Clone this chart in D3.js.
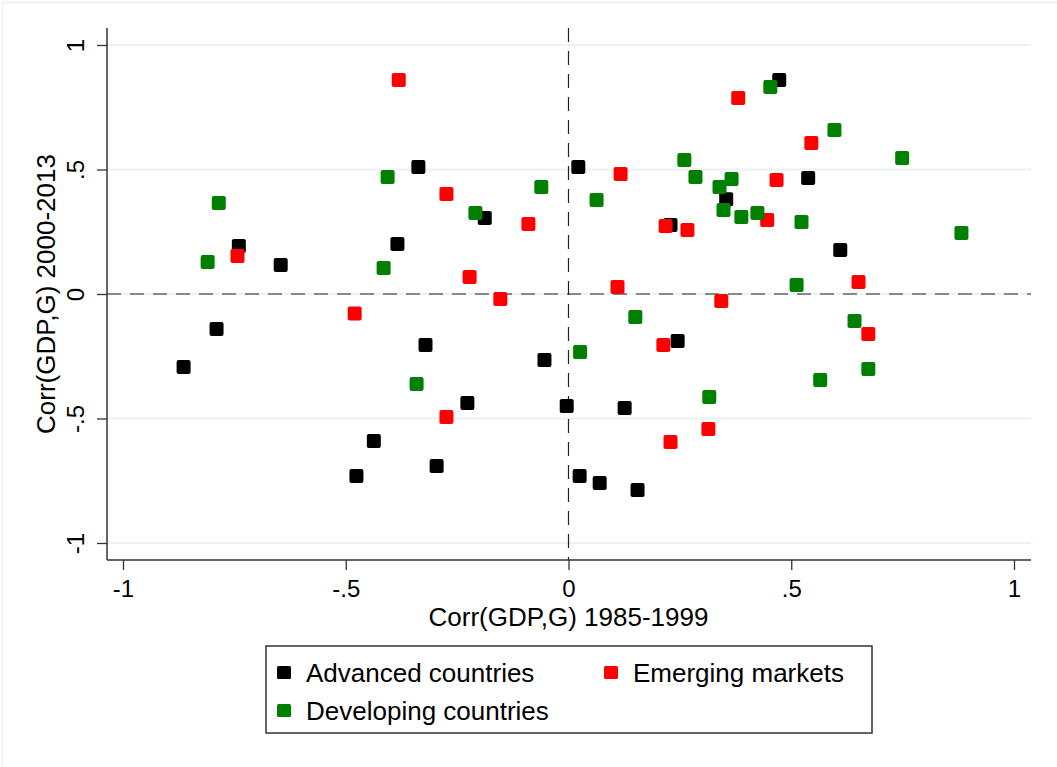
<!DOCTYPE html>
<html>
<head>
<meta charset="utf-8">
<script src="https://cdn.jsdelivr.net/npm/d3@7"></script>
<style>
  html, body { margin: 0; padding: 0; background: #fff; }
  svg { display: block; font-family: "Liberation Sans", Arial, Helvetica, sans-serif; }
</style>
</head>
<body>
<div id="chart"></div>
<script>
// Corr(GDP,G) in 1985-1999 (x) vs 2000-2013 (y), by country group
const advanced = [
  [0.473, 0.859], [-0.337, 0.510], [0.022, 0.510], [-0.740, 0.193], [-0.384, 0.201],
  [-0.188, 0.305], [-0.646, 0.116], [0.229, 0.277], [0.354, 0.381], [0.538, 0.466],
  [0.610, 0.177], [-0.790, -0.141], [-0.864, -0.293], [-0.321, -0.205], [-0.054, -0.265],
  [-0.227, -0.438], [-0.004, -0.450], [0.126, -0.458], [0.245, -0.189], [-0.437, -0.590],
  [-0.476, -0.731], [-0.296, -0.691], [0.025, -0.731], [0.070, -0.759], [0.155, -0.787]
];
const emerging = [
  [-0.381, 0.859], [0.381, 0.787], [0.545, 0.606], [-0.274, 0.402], [0.117, 0.482],
  [-0.090, 0.281], [0.218, 0.273], [0.267, 0.257], [0.467, 0.458], [0.446, 0.297],
  [-0.743, 0.153], [-0.222, 0.068], [-0.153, -0.020], [0.110, 0.028], [0.343, -0.028],
  [0.651, 0.048], [-0.480, -0.078], [0.673, -0.161], [0.213, -0.205], [-0.274, -0.494],
  [0.229, -0.594], [0.314, -0.542]
];
const developing = [
  [0.453, 0.831], [0.597, 0.659], [0.749, 0.546], [0.882, 0.245], [-0.785, 0.365],
  [-0.810, 0.129], [-0.406, 0.470], [-0.209, 0.325], [-0.061, 0.430], [0.063, 0.378],
  [0.260, 0.538], [0.285, 0.470], [0.339, 0.430], [0.366, 0.462], [0.348, 0.337],
  [0.388, 0.309], [0.424, 0.325], [0.523, 0.289], [-0.415, 0.104], [0.512, 0.036],
  [0.150, -0.092], [0.642, -0.108], [0.026, -0.233], [-0.341, -0.361], [0.565, -0.345],
  [0.673, -0.301], [0.316, -0.414]
];
const groups = ["Advanced countries", "Emerging markets", "Developing countries"];
const groupColors = ["#000000", "#ff0000", "#008000"];
const xTicks = [-1, -0.5, 0, 0.5, 1];
const yTicks = [-1, -0.5, 0, 0.5, 1];
const tickLabels = ["-1", "-.5", "0", ".5", "1"];

const W = 1057, H = 767;
const svg = d3.select("#chart").append("svg").attr("width", W).attr("height", H);

// plot region
const pLeft = 107, pRight = 1031, pTop = 28, pBottom = 560;
const x = d3.scaleLinear().domain([-1, 1]).range([123, 1014]);
const y = d3.scaleLinear().domain([-1, 1]).range([543, 45]);

// outer frame
svg.append("path").attr("d", `M2.5,${H + 5}V2.5H${W + 5}`)
  .attr("fill", "none").attr("stroke", "#eaf2f3").attr("stroke-width", 1.5);

// gridlines
svg.append("g").selectAll("line").data(yTicks).join("line")
  .attr("x1", pLeft).attr("x2", pRight)
  .attr("y1", d => y(d)).attr("y2", d => y(d))
  .attr("stroke", "#eaf2f3").attr("stroke-width", 2);

// reference lines at 0
svg.append("line").attr("x1", pLeft).attr("x2", pRight)
  .attr("y1", y(0)).attr("y2", y(0))
  .attr("stroke", "#222").attr("stroke-width", 1.2).attr("stroke-dasharray", "14,9");
svg.append("line").attr("x1", x(0)).attr("x2", x(0))
  .attr("y1", pTop).attr("y2", pBottom)
  .attr("stroke", "#222").attr("stroke-width", 1.2).attr("stroke-dasharray", "14,9");

// axes
const fmt = d => tickLabels[xTicks.indexOf(d)];
const xAxis = svg.append("g").attr("transform", `translate(0,${pBottom})`)
  .call(d3.axisBottom(x).tickValues(xTicks).tickFormat(fmt).tickSize(10).tickPadding(7));
const yAxis = svg.append("g").attr("transform", `translate(${pLeft},0)`)
  .call(d3.axisLeft(y).tickValues(yTicks).tickFormat(fmt).tickSize(10).tickPadding(7));

[xAxis, yAxis].forEach(g => {
  g.select(".domain").remove();
  g.selectAll(".tick line").attr("stroke", "#333").attr("stroke-width", 1.3);
  g.selectAll("text").attr("font-size", 24).attr("fill", "#000")
    .attr("font-family", "Liberation Sans, Arial, sans-serif");
});
xAxis.selectAll("text").attr("dy", null).attr("y", 37);
yAxis.selectAll("text").attr("x", null).attr("dy", null)
  .attr("text-anchor", "middle")
  .attr("transform", "translate(-23,0) rotate(-90)");

svg.append("line").attr("x1", pLeft).attr("x2", pLeft).attr("y1", pTop).attr("y2", pBottom)
  .attr("stroke", "#333").attr("stroke-width", 1.5);
svg.append("line").attr("x1", pLeft).attr("x2", pRight).attr("y1", pBottom).attr("y2", pBottom)
  .attr("stroke", "#333").attr("stroke-width", 1.5);

// axis titles
svg.append("text").attr("x", x(0)).attr("y", 626)
  .attr("text-anchor", "middle").attr("font-size", 26)
  .text("Corr(GDP,G) 1985-1999");
svg.append("text").attr("transform", `translate(55,${y(0)}) rotate(-90)`)
  .attr("text-anchor", "middle").attr("font-size", 26)
  .text("Corr(GDP,G) 2000-2013");

// markers
const S = 14;
[advanced, emerging, developing].forEach((pts, i) => {
  svg.append("g").selectAll("rect").data(pts).join("rect")
    .attr("x", d => x(d[0]) - S / 2).attr("y", d => y(d[1]) - S / 2)
    .attr("width", S).attr("height", S).attr("rx", 2)
    .attr("fill", groupColors[i]);
});

// legend
const lg = svg.append("g");
lg.append("rect").attr("x", 266).attr("y", 646).attr("width", 606).attr("height", 87)
  .attr("fill", "#fff").attr("stroke", "#333").attr("stroke-width", 1.5);
const legPos = [[284, 673], [611, 673], [284, 711]];
groups.forEach((g, i) => {
  const [lx, ly] = legPos[i];
  lg.append("rect").attr("x", lx - 7).attr("y", ly - 7).attr("width", 14).attr("height", 13)
    .attr("rx", 1.5).attr("fill", groupColors[i]);
  lg.append("text").attr("x", lx + 22).attr("y", ly + 9)
    .attr("font-size", 26).text(g);
});
</script>
</body>
</html>
